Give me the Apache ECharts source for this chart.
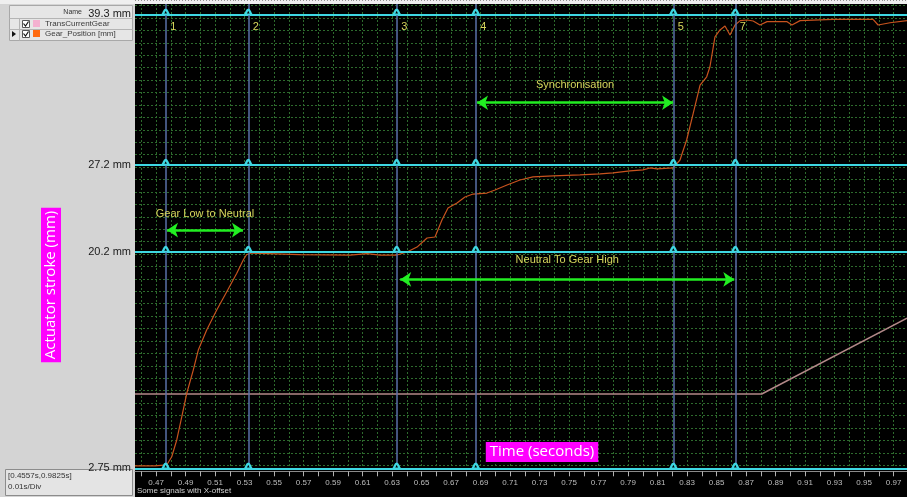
<!DOCTYPE html>
<html>
<head>
<meta charset="utf-8">
<style>
  html, body { margin: 0; padding: 0; background: #000; }
  #chart { width: 907px; height: 497px; }
</style>
<script src="https://cdn.jsdelivr.net/npm/echarts@6/dist/echarts.min.js"></script>
</head>
<body>
<div id="chart"></div>
<script>
// Gear_Position [mm] samples (time in s, stroke in mm)
const gearTime = [0.4557, 0.4693, 0.4772, 0.4806, 0.4840, 0.4874, 0.4908, 0.4952, 0.4986, 0.5043,
    0.5111, 0.5179, 0.5247, 0.5291, 0.5314, 0.5348, 0.5676, 0.6015, 0.6130, 0.6218,
    0.6333, 0.6401, 0.6469, 0.6537, 0.6591, 0.6638, 0.6679, 0.6740, 0.6794, 0.6849,
    0.6943, 0.6998, 0.7079, 0.7167, 0.7255, 0.7391, 0.7574, 0.7710, 0.7798, 0.7913,
    0.8001, 0.8049, 0.8096, 0.8205, 0.8252, 0.8297, 0.8342, 0.8388, 0.8433, 0.8455,
    0.8489, 0.8523, 0.8557, 0.8591, 0.8625, 0.8660, 0.8707, 0.8748, 0.8794, 0.8842,
    0.8978, 0.9011, 0.9066, 0.9289, 0.9561, 0.9595, 0.9676, 0.9791];
const gearPos = [2.94, 2.94, 3.02, 3.68, 5.03, 6.90, 8.79, 10.66, 12.27, 13.88,
    15.49, 16.97, 18.45, 19.52, 19.96, 20.08, 19.96, 19.92, 20.04, 19.92,
    19.92, 20.16, 20.56, 21.29, 21.37, 22.74, 23.70, 24.11, 24.59, 24.83,
    24.91, 25.16, 25.56, 25.96, 26.21, 26.29, 26.37, 26.45, 26.53, 26.69,
    26.77, 26.93, 26.85, 26.93, 27.57, 29.18, 31.35, 33.60, 34.27, 35.08,
    37.49, 38.04, 38.36, 37.63, 38.44, 38.79, 38.84, 38.76, 38.44, 38.71,
    38.71, 38.44, 38.79, 38.90, 38.90, 38.44, 38.62, 38.79];

// TransCurrentGear
const currentTime = [0.4557, 0.8806, 0.9791];
const currentVal = [8.73, 8.73, 14.83];

// cursors
const cursorNames = ['1', '2', '3', '4', '5', '7'];
const cursorTimes = [0.4765, 0.5325, 0.6331, 0.6867, 0.8207, 0.8627];
const levelValues = [2.75, 20.2, 27.2, 39.3];

// annotations
const arrowNames = ['Gear Low to Neutral', 'Synchronisation', 'Neutral To Gear High'];
const arrowStart = [0.4774, 0.6876, 0.6355];
const arrowEnd = [0.5289, 0.8205, 0.8620];
const arrowLevel = [21.93, 32.18, 17.96];

const xLabelValues = [0.47, 0.49, 0.51, 0.53, 0.55, 0.57, 0.59, 0.61, 0.63, 0.65, 0.67, 0.69, 0.71,
    0.73, 0.75, 0.77, 0.79, 0.81, 0.83, 0.85, 0.87, 0.89, 0.91, 0.93, 0.95, 0.97];

const xMin = 0.4557;
const xMax = 0.9791;
const yMin = 2.75;
const yMax = 40.13;

// grid divisions: 0.01 s and 1 mm, ruler every 0.002 s
const xGridTicks = [];
for (let k = 46; k <= 97; k++) xGridTicks.push(k / 100);
const xRulerTicks = [];
for (let k = 228; k <= 489; k++) xRulerTicks.push(k * 2 / 1000);
const yGridTicks = [];
for (let k = 3; k <= 40; k++) yGridTicks.push(k);

const CYAN = '#3ed7e2';
const GREEN = '#22ee22';
const YELLOW = '#d6d65c';
const FONT = 'Liberation Sans';
const HUMP = 'path://M0,10 C3,10 3,0 5,0 C7,0 7,10 10,10 Z';
const arrowLabelGap = [11, 12, 14];

const chart = echarts.init(document.getElementById('chart'));

const markLines = [];
levelValues.forEach((v) => {
    markLines.push({
        yAxis: v,
        lineStyle: { color: CYAN, width: 2, type: 'solid' },
        label: { show: true, position: 'start', formatter: v + ' mm', color: '#1a1a1a', fontSize: 11, fontFamily: FONT, distance: 4 },
    });
});
cursorTimes.forEach((t) => {
    markLines.push({
        xAxis: t,
        lineStyle: { color: '#5a70a8', width: 1.5, type: 'solid' },
        label: { show: false },
    });
});
arrowNames.forEach((name, i) => {
    const style = { color: GREEN, width: 2.5, type: 'solid' };
    const label = { show: true, position: 'insideMiddleTop', formatter: name, color: YELLOW, fontSize: 11, fontFamily: FONT, distance: arrowLabelGap[i] };
    markLines.push([
        { coord: [arrowStart[i], arrowLevel[i]], symbol: 'arrow', symbolSize: 11, lineStyle: style, label: label },
        { coord: [arrowEnd[i], arrowLevel[i]], symbol: 'arrow', symbolSize: 11, lineStyle: style, label: label },
    ]);
});

const markPoints = [];
levelValues.forEach((v) => {
    cursorTimes.forEach((t) => {
        markPoints.push({
            coord: [t, v],
            symbol: HUMP,
            symbolSize: [8, 5],
            symbolOffset: [0, -2.5],
            itemStyle: { color: '#000', borderColor: CYAN, borderWidth: 2 },
            label: { show: false },
        });
    });
});
cursorNames.forEach((name, i) => {
    markPoints.push({
        coord: [cursorTimes[i], 38.31],
        symbol: 'rect',
        symbolSize: 1,
        itemStyle: { color: 'transparent' },
        label: { show: true, position: 'right', distance: 4, formatter: name, color: YELLOW, fontSize: 11, fontFamily: FONT },
    });
});

const gridLine = { show: true, lineStyle: { color: '#2d6a2d', width: 1, type: [2, 2] } };

const option = {
    backgroundColor: '#000',
    animation: false,
    grid: { left: 135, right: 0, top: 4, bottom: 28.7 },
    legend: {
        orient: 'vertical',
        left: 33,
        top: 19,
        padding: 0,
        itemGap: 1,
        itemWidth: 7,
        itemHeight: 7,
        icon: 'rect',
        selectedMode: false,
        textStyle: { color: '#3a3a3a', fontSize: 8, fontFamily: FONT, lineHeight: 9 },
        data: [
            { name: 'TransCurrentGear', itemStyle: { color: '#f4b0d0' } },
            { name: 'Gear_Position [mm]', itemStyle: { color: '#ff6a10' } },
        ],
    },
    xAxis: [
        {
            type: 'value',
            min: xMin,
            max: xMax,
            offset: 3,
            axisLine: { show: true, lineStyle: { color: '#8a8a8a', width: 1 } },
            axisTick: { show: true, customValues: xGridTicks, length: 5, lineStyle: { color: '#b0b0b0' } },
            axisLabel: {
                customValues: xLabelValues,
                formatter: (v) => v.toFixed(2),
                color: '#bdbdbd',
                fontSize: 8,
                fontFamily: FONT,
                margin: 7,
            },
            splitLine: gridLine,
        },
        {
            type: 'value',
            min: xMin,
            max: xMax,
            offset: 3,
            axisLine: { show: false },
            axisTick: { show: true, customValues: xRulerTicks, length: 3, lineStyle: { color: '#909090' } },
            axisLabel: { show: false },
            splitLine: { show: false },
        },
    ],
    yAxis: {
        type: 'value',
        min: yMin,
        max: yMax,
        axisLine: { show: false },
        axisTick: { show: false, customValues: yGridTicks },
        axisLabel: { show: false },
        splitLine: gridLine,
    },
    series: [
        {
            name: 'cursors',
            type: 'line',
            data: [],
            silent: true,
            z: 2,
            markLine: { symbol: ['none', 'none'], precision: 4, silent: true, animation: false, data: markLines },
            markPoint: { silent: true, animation: false, data: markPoints },
        },
        {
            name: 'TransCurrentGear',
            type: 'line',
            data: currentTime.map((t, i) => [t, currentVal[i]]),
            symbol: 'none',
            lineStyle: { color: '#b28888', width: 1.5 },
            itemStyle: { color: '#b28888' },
            z: 3,
        },
        {
            name: 'Gear_Position [mm]',
            type: 'line',
            data: gearTime.map((t, i) => [t, gearPos[i]]),
            symbol: 'none',
            lineStyle: { color: '#c8531e', width: 1.2 },
            itemStyle: { color: '#c8531e' },
            z: 4,
        },
    ],
    graphic: [
        // left signal panel
        { type: 'rect', silent: true, z: 0, shape: { x: 0, y: 0, width: 135, height: 497 }, style: { fill: '#d4d4d4' } },
        { type: 'rect', silent: true, z: 0, shape: { x: 0, y: 0, width: 907, height: 4 }, style: { fill: '#efefef' } },
        { type: 'rect', silent: true, z: 1, shape: { x: 9.5, y: 5.5, width: 123, height: 35 }, style: { fill: '#e6e6e6', stroke: '#a8a8a8', lineWidth: 1 } },
        { type: 'line', silent: true, z: 1, shape: { x1: 9.5, y1: 18.5, x2: 132.5, y2: 18.5 }, style: { stroke: '#b4b4b4' } },
        { type: 'line', silent: true, z: 1, shape: { x1: 9.5, y1: 29.5, x2: 132.5, y2: 29.5 }, style: { stroke: '#b4b4b4' } },
        { type: 'line', silent: true, z: 1, shape: { x1: 19.5, y1: 18.5, x2: 19.5, y2: 40.5 }, style: { stroke: '#b4b4b4' } },
        { type: 'text', silent: true, z: 2, x: 82, y: 12, style: { text: 'Name', align: 'right', verticalAlign: 'middle', fill: '#333', font: '7px Liberation Sans' } },
        { type: 'rect', silent: true, z: 2, shape: { x: 22.5, y: 20.5, width: 7, height: 7 }, style: { fill: '#fff', stroke: '#555' } },
        { type: 'rect', silent: true, z: 2, shape: { x: 22.5, y: 30.5, width: 7, height: 7 }, style: { fill: '#fff', stroke: '#555' } },
        { type: 'polyline', silent: true, z: 3, shape: { points: [[23.5, 23.5], [25.5, 26], [28.5, 21.5]] }, style: { stroke: '#111', lineWidth: 1.2, fill: null } },
        { type: 'polyline', silent: true, z: 3, shape: { points: [[23.5, 33.5], [25.5, 36], [28.5, 31.5]] }, style: { stroke: '#111', lineWidth: 1.2, fill: null } },
        { type: 'polygon', silent: true, z: 2, shape: { points: [[12, 31], [16, 34], [12, 37]] }, style: { fill: '#111' } },
        // range box
        { type: 'rect', silent: true, z: 1, shape: { x: 5.5, y: 469.5, width: 127, height: 26 }, style: { fill: '#e4e4e4', stroke: '#8c8c8c' } },
        { type: 'text', silent: true, z: 2, x: 8, y: 476, style: { text: '[0.4557s,0.9825s]', verticalAlign: 'middle', fill: '#333', font: '8px Liberation Sans' } },
        { type: 'text', silent: true, z: 2, x: 8, y: 487, style: { text: '0.01s/Div', verticalAlign: 'middle', fill: '#333', font: '8px Liberation Sans' } },
        { type: 'text', silent: true, z: 20, x: 137, y: 491, style: { text: 'Some signals with X-offset', verticalAlign: 'middle', fill: '#d0d0d0', font: '8px Liberation Sans' } },
        // axis titles
        {
            type: 'text', silent: true, z: 50, x: 51, y: 285, rotation: Math.PI / 2,
            style: { text: 'Actuator stroke (mm)', align: 'center', verticalAlign: 'middle', fill: '#fff', backgroundColor: '#ff00ff', padding: [3, 3, 2, 3], font: '15px Open Sans' },
        },
        {
            type: 'text', silent: true, z: 50, x: 542, y: 452,
            style: { text: 'Time (seconds)', align: 'center', verticalAlign: 'middle', fill: '#fff', backgroundColor: '#ff00ff', padding: [3, 4, 2, 4], font: '15px Open Sans' },
        },
    ],
};

chart.setOption(option);
</script>
</body>
</html>
